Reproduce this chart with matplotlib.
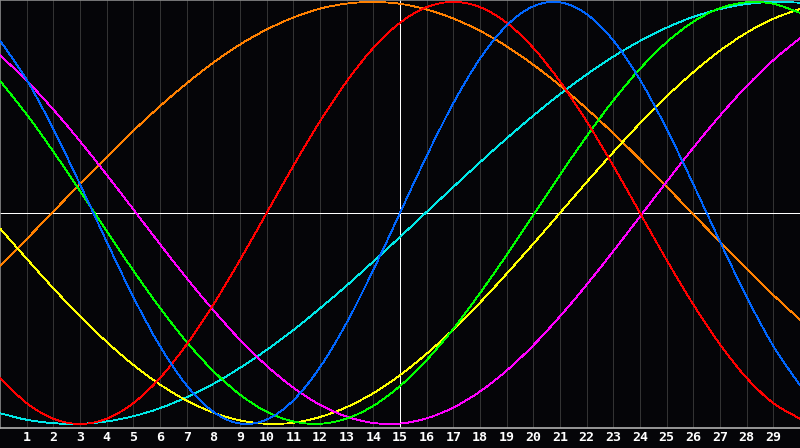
import matplotlib
matplotlib.use("Agg")
import matplotlib.pyplot as plt
from matplotlib.path import Path
from matplotlib.patches import PathPatch

days = list(range(0, 31))
day_labels = [str(d) for d in range(1, 30)]
today = 15

physical = [0.817, 0.631, 0.398, 0.136, -0.136, -0.398, -0.631, -0.817, -0.942, -0.998,
            -0.979, -0.888, -0.731, -0.520, -0.270, 0.000, 0.270, 0.520, 0.731, 0.888,
            0.979, 0.998, 0.942, 0.817, 0.631, 0.398, 0.136, -0.136, -0.398, -0.631, -0.817]
emotional = [-0.782, -0.901, -0.975, -1.000, -0.975, -0.901, -0.782, -0.623, -0.434, -0.223,
             0.000, 0.223, 0.434, 0.623, 0.782, 0.901, 0.975, 1.000, 0.975, 0.901,
             0.782, 0.623, 0.434, 0.223, 0.000, -0.223, -0.434, -0.623, -0.782, -0.901, -0.975]
intellectual = [0.626, 0.467, 0.291, 0.105, -0.086, -0.273, -0.450, -0.611, -0.749, -0.861,
                -0.942, -0.988, -0.999, -0.974, -0.914, -0.820, -0.697, -0.549, -0.380, -0.199,
                -0.010, 0.180, 0.363, 0.533, 0.683, 0.809, 0.906, 0.970, 0.998, 0.991, 0.948]
intuitive = [0.747, 0.627, 0.490, 0.340, 0.181, 0.017, -0.148, -0.309, -0.461, -0.601,
             -0.724, -0.828, -0.909, -0.965, -0.995, -0.998, -0.973, -0.922, -0.846, -0.747,
             -0.627, -0.490, -0.340, -0.181, -0.017, 0.148, 0.309, 0.461, 0.601, 0.724, 0.828]
awareness = [-0.252, -0.124, 0.007, 0.137, 0.265, 0.389, 0.506, 0.614, 0.712, 0.798,
             0.869, 0.926, 0.968, 0.992, 1.000, 0.991, 0.964, 0.921, 0.863, 0.789,
             0.702, 0.604, 0.494, 0.377, 0.253, 0.124, -0.007, -0.137, -0.265, -0.389, -0.506]
spiritual = [-0.949, -0.980, -0.996, -0.999, -0.988, -0.963, -0.925, -0.873, -0.810, -0.734,
             -0.649, -0.555, -0.452, -0.344, -0.230, -0.114, 0.005, 0.123, 0.240, 0.353,
             0.461, 0.563, 0.656, 0.741, 0.815, 0.878, 0.929, 0.966, 0.990, 1.000, 0.996]
aesthetic = [-0.073, -0.217, -0.357, -0.489, -0.611, -0.720, -0.813, -0.889, -0.946, -0.983,
             -0.999, -0.994, -0.967, -0.920, -0.854, -0.769, -0.667, -0.552, -0.425, -0.288,
             -0.146, 0.000, 0.146, 0.288, 0.425, 0.552, 0.667, 0.769, 0.854, 0.920, 0.967]

series = [
    (awareness, "#ff8000"),
    (spiritual, "#00e8e8"),
    (aesthetic, "#ffff00"),
    (intuitive, "#ff00ff"),
    (intellectual, "#00ff00"),
    (emotional, "#ff0000"),
    (physical, "#0066ff"),
]


def smooth_path(xs, ys):
    # Render the polyline through the data points as smooth Bezier segments
    verts = [(xs[0], ys[0])]
    codes = [Path.MOVETO]
    n = len(xs)
    for i in range(n - 1):
        x0, y0 = xs[max(i - 1, 0)], ys[max(i - 1, 0)]
        x1, y1 = xs[i], ys[i]
        x2, y2 = xs[i + 1], ys[i + 1]
        x3, y3 = xs[min(i + 2, n - 1)], ys[min(i + 2, n - 1)]
        c1 = (x1 + (x2 - x0) / 6.0, y1 + (y2 - y0) / 6.0)
        c2 = (x2 - (x3 - x1) / 6.0, y2 - (y3 - y1) / 6.0)
        verts += [c1, c2, (x2, y2)]
        codes += [Path.CURVE4, Path.CURVE4, Path.CURVE4]
    return Path(verts, codes)


bg = "#050508"
fig = plt.figure(figsize=(8.0, 4.48), dpi=100, facecolor=bg)
ax = fig.add_axes([0.0, 20 / 448, 1.0, 428 / 448])
ax.set_facecolor(bg)
ax.set_xlim(0, 30)
ax.set_ylim(-1.019, 1.009)

for lab in day_labels:
    ax.axvline(int(lab), color="#333333", lw=0.6, antialiased=False, zorder=1)

ax.axhline(0, color="white", lw=0.7, antialiased=False, zorder=2)
ax.axvline(today, color="white", lw=0.7, antialiased=False, zorder=2)

for vals, col in series:
    ax.add_patch(PathPatch(smooth_path(days, vals), facecolor="none", edgecolor=col,
                           lw=0.6, antialiased=False, zorder=3))

ax.spines["right"].set_visible(False)
ax.spines["top"].set_color("#8a8a8a")
ax.spines["left"].set_color("#8a8a8a")
ax.spines["bottom"].set_color("#b0b0b0")
for s in ["top", "left", "bottom"]:
    ax.spines[s].set_linewidth(1.2)

ax.set_yticks([])
ax.set_xticks([int(l) for l in day_labels])
ax.set_xticklabels(day_labels, family="DejaVu Sans Mono", fontweight="bold",
                   fontsize=9.5, color="white")
ax.tick_params(axis="x", length=0, pad=2.5)

fig.savefig("out.png", dpi=100, facecolor=bg)
